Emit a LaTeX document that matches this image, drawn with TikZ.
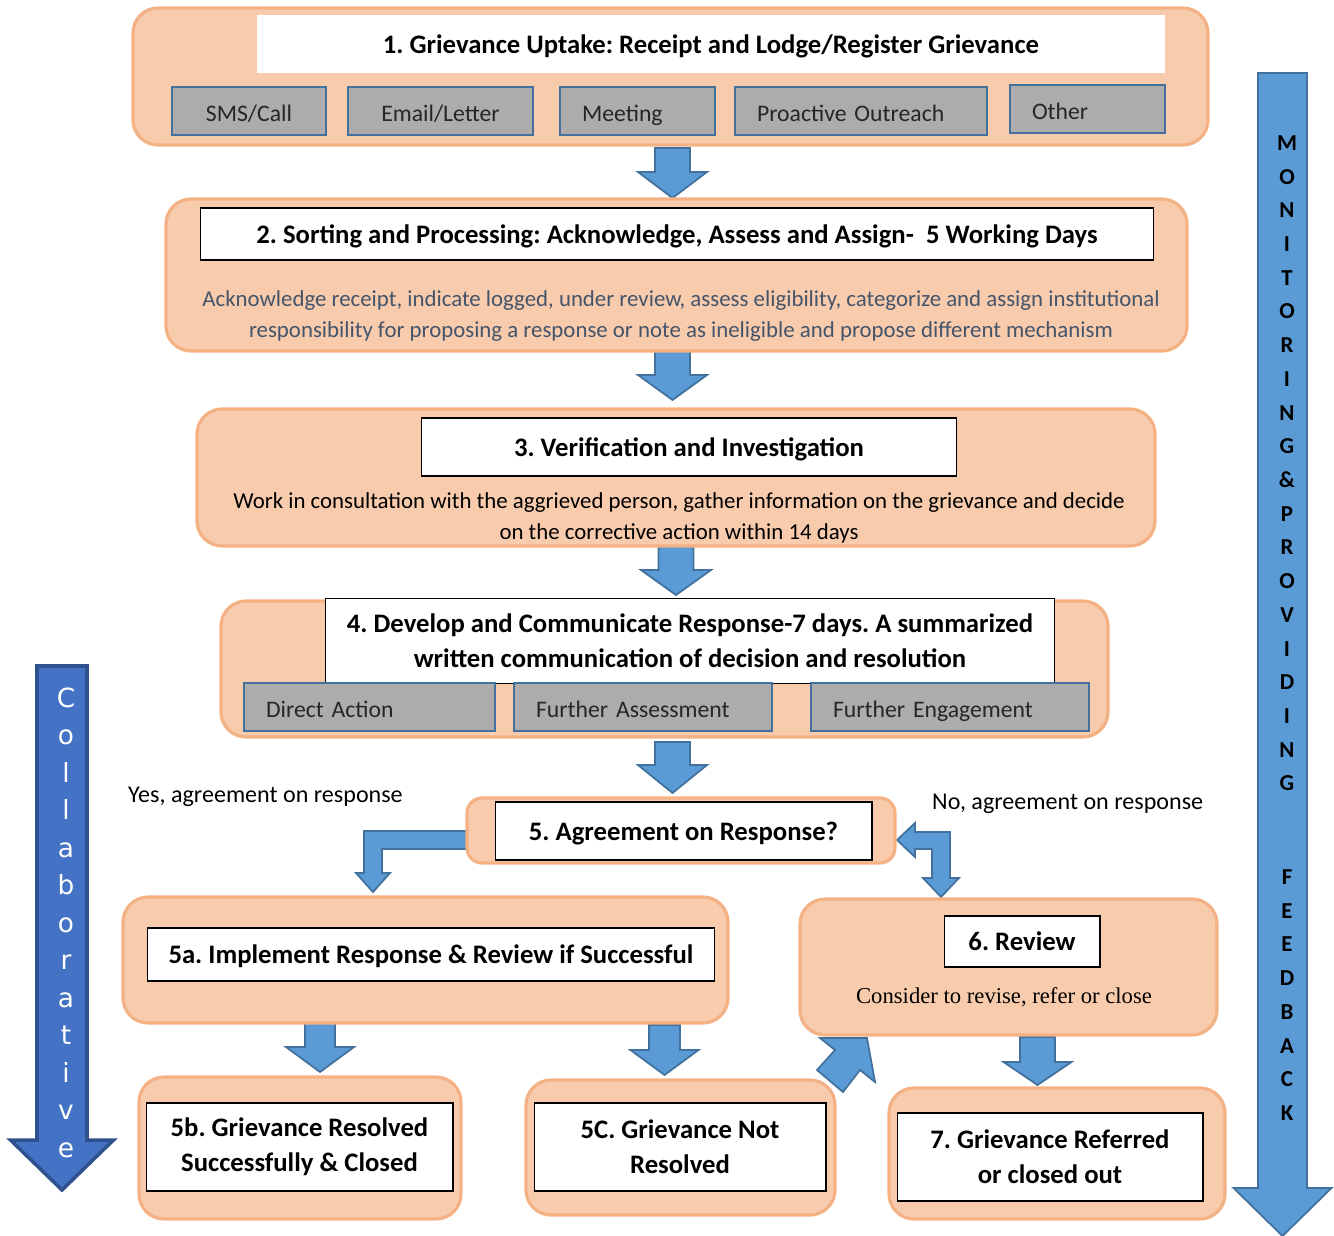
\documentclass[tikz,border=0pt]{standalone}
\usepackage{fontspec}
\setmainfont{Carlito}
\newfontfamily\serifface{Liberation Serif}
\newfontfamily\sideface{DejaVu Sans}
\frenchspacing

\definecolor{peachfill}{HTML}{F8CBAD}
\definecolor{peachline}{HTML}{F4B183}
\definecolor{greyfill}{HTML}{AEABAB}
\definecolor{steelline}{HTML}{41719C}
\definecolor{arrowblue}{HTML}{5B9BD5}
\definecolor{darkblue}{HTML}{4472C4}
\definecolor{darkline}{HTML}{2F528F}
\definecolor{slatetext}{HTML}{44546A}

% block arrow pointing down: x, top, tip, shaft half width, head half width, head length
\newcommand{\downblock}[7][]{%
  \draw[blockarrow,#1] (#2-#5,#3) -- (#2+#5,#3) -- (#2+#5,#4-#7) -- (#2+#6,#4-#7)
    -- (#2,#4) -- (#2-#6,#4-#7) -- (#2-#5,#4-#7) -- cycle;}

\tikzset{
  stage/.style={draw=peachline, fill=peachfill, line width=1.8pt, rounded corners=0.5cm},
  titlebox/.style={draw=black, fill=white, line width=0.6pt, inner sep=0pt, align=center,
    font=\fontsize{15.2}{20}\selectfont\bfseries},
  onelinebox/.style={titlebox, text height=11.5pt, text depth=0.8pt},
  channel/.style={draw=steelline, fill=greyfill, line width=1.2pt, inner sep=0pt,
    minimum height=0.96cm, text height=12pt, text depth=0.6pt, text=black!85,
    font=\fontsize{13.5}{16}\selectfont},
  leftchannel/.style={channel, inner xsep=0.44cm, text width=#1, align=left},
  blockarrow/.style={draw=steelline, fill=arrowblue, line width=1pt},
  note/.style={font=\fontsize{13}{18}\selectfont, align=center},
  branchlabel/.style={anchor=west, font=\fontsize{13.7}{16}\selectfont},
  sideletter/.style={anchor=base, inner sep=0pt}
}

\begin{document}
\begin{tikzpicture}[x=0.02cm, y=-0.02cm]
    \useasboundingbox (0,0) rectangle (1334,1236);

    % Side arrows
    \downblock[fill=darkblue, draw=darkline, line width=2pt]{62}{666}{1190}{25}{51.5}{50}
    \downblock{1282.5}{73}{1236}{24.5}{49}{48}
    \foreach \ch [count=\i from 0] in {C,o,l,l,a,b,o,r,a,t,i,v,e}
        \node[sideletter, text=white, font=\sideface\fontsize{15}{15}\selectfont] (collab-\i) at (66,707+37.5*\i) {\ch};
    \foreach \ch [count=\i from 0] in {M,O,N,I,T,O,R,I,N,G,\&,P,R,O,V,I,D,I,N,G}
        \node[sideletter, font=\fontsize{13}{13}\selectfont\bfseries] (monitor-\i) at (1287,150.5+33.7*\i) {\ch};
    \foreach \ch [count=\i from 0] in {F,E,E,D,B,A,C,K}
        \node[sideletter, font=\fontsize{13}{13}\selectfont\bfseries] (feedback-\i) at (1287,884.5+33.7*\i) {\ch};

    % Arrows between the stages
    \downblock{672.5}{148}{198}{17.5}{34.5}{26}
    \downblock{672.5}{350}{400}{17.5}{34.5}{25}
    \downblock{676}{545}{595}{17.5}{35}{25}
    \downblock{672.5}{742}{793}{17.5}{34.5}{28}
    \downblock{320}{1022}{1072}{15}{34}{25}
    \downblock{664.5}{1025}{1075}{15.5}{34}{25}
    \downblock{1037.5}{1037}{1085}{17.5}{34}{23}

    % Yes branch
    \draw[blockarrow] (470,831) -- (364,831) -- (364,873) -- (356,873) -- (373,892)
        -- (390,873) -- (382,873) -- (382,849) -- (470,849) -- cycle;
    % No branch
    \draw[blockarrow] (897,840) -- (915,823) -- (915,832) -- (950,832) -- (950,878)
        -- (959,878) -- (941,897) -- (923,878) -- (932,878) -- (932,849) -- (915,849)
        -- (915,857) -- cycle;
    % Not resolved back to review
    \draw[blockarrow] (843,1092) -- (817,1070) -- (835,1050) -- (820,1038) -- (867,1038)
        -- (875,1082) -- (860,1070) -- cycle;

    % Stage 1
    \draw[stage] (133,8) rectangle (1208,145);
    \node[onelinebox, draw=none, minimum width=18.16cm, minimum height=1.16cm] (uptake) at (711,44)
        {1. Grievance Uptake: Receipt and Lodge/Register Grievance};
    \node[channel, minimum width=3.08cm] (sms) at (249,111) {SMS/Call};
    \node[channel, minimum width=3.70cm] (email) at (440.5,111) {Email/Letter};
    \node[leftchannel=2.22cm] (meeting) at (637.5,111) {Meeting};
    \node[leftchannel=4.16cm] (outreach) at (861,111) {Proactive Outreach};
    \node[leftchannel=2.22cm] (other) at (1087.5,109) {Other};

    % Stage 2
    \draw[stage] (166,199) rectangle (1187,351);
    \node[onelinebox, minimum width=19.08cm, minimum height=1.04cm] (sorting) at (677,234)
        {2. Sorting and Processing: Acknowledge, Assess and Assign-\ \ 5 Working Days};
    \node[note, text=slatetext] (sortnote) at (681,316)
        {Acknowledge receipt, indicate logged, under review, assess eligibility, categorize and assign institutional\\
         responsibility for proposing a response or note as ineligible and propose different mechanism};

    % Stage 3
    \draw[stage] (197,409) rectangle (1155,546);
    \node[onelinebox, minimum width=10.72cm, minimum height=1.16cm] (verify) at (689,447)
        {3. Verification and Investigation};
    \node[note] (verifynote) at (679,518)
        {Work in consultation with the aggrieved person, gather information on the grievance and decide\\
         on the corrective action within 14 days};

    % Stage 4
    \draw[stage] (221,601) rectangle (1108,737);
    \node[titlebox, minimum width=14.6cm, minimum height=1.7cm] (respond) at (690,641)
        {4. Develop and Communicate Response-7 days. A summarized\\
         written communication of decision and resolution};
    \node[leftchannel=4.14cm] (direct) at (369.5,707) {Direct Action};
    \node[leftchannel=4.28cm] (assess) at (643,707) {Further Assessment};
    \node[leftchannel=4.68cm] (engage) at (950,707) {Further Engagement};

    % Stage 5
    \draw[stage, rounded corners=0.3cm] (467,798) rectangle (895,863);
    \node[onelinebox, minimum width=7.54cm, minimum height=1.16cm] (agree) at (683.5,831)
        {5. Agreement on Response?};
    \node[branchlabel] (yes) at (122,797) {Yes, agreement on response};
    \node[branchlabel] (no) at (926,804) {No, agreement on response};

    % Stage 5a
    \draw[stage] (123,897) rectangle (728,1023);
    \node[onelinebox, minimum width=11.36cm, minimum height=1.06cm] (implement) at (431,954.5)
        {5a. Implement Response \& Review if Successful};

    % Stage 6
    \draw[stage] (800,899) rectangle (1217,1035);
    \node[onelinebox, minimum width=3.12cm, minimum height=1.02cm] (review) at (1022,941.5)
        {6. Review};
    \node[font=\serifface\fontsize{12.9}{15}\selectfont] (reviewnote) at (1004,997)
        {Consider to revise, refer or close};

    % Stages 5b, 5C and 7
    \draw[stage] (139,1077) rectangle (461,1219);
    \node[titlebox, minimum width=6.14cm, minimum height=1.76cm] (resolved) at (299.5,1147)
        {5b. Grievance Resolved\\Successfully \& Closed};
    \draw[stage] (526,1080) rectangle (835,1215);
    \node[titlebox, minimum width=5.84cm, minimum height=1.76cm] (unresolved) at (680,1147)
        {5C. Grievance Not\\Resolved};
    \draw[stage] (889,1088) rectangle (1225,1219);
    \node[titlebox, minimum width=6.12cm, minimum height=1.76cm] (referred) at (1050,1157)
        {7. Grievance Referred\\or closed out};
\end{tikzpicture}
\end{document}
